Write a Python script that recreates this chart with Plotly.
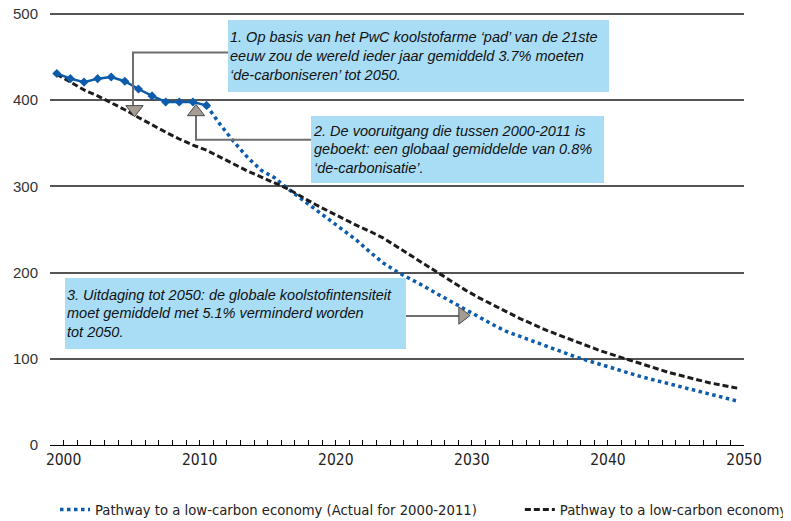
import plotly.graph_objects as go

# years and values
years_actual = list(range(2000, 2012))
actual = [431, 425, 421, 425, 427, 422, 413, 405, 398, 398, 398, 394]

years_proj = list(range(2011, 2051))
projection = [394, 372, 352, 334, 319, 310, 297, 285, 273, 262,
              250, 238, 224, 211, 201, 193, 184, 175, 166, 158,
              149, 140, 132, 126, 121, 115, 109, 103, 98, 93,
              88, 83, 79, 75, 71, 67, 63, 59, 55, 51]

years_pwc = list(range(2000, 2051))
pwc_path = [430, 421, 412, 405, 397, 389, 380, 371, 363, 355,
            348, 342, 334, 326, 318, 311, 304, 297, 288, 279,
            271, 263, 255, 248, 240, 230, 220, 209, 199, 190,
            180, 171, 163, 155, 147, 140, 133, 127, 121, 115,
            109, 104, 99, 94, 89, 84, 80, 76, 72, 69, 66]

tick_labels = ['2000', '2010', '2020', '2030', '2040', '2050']

notes = [
    "1. Op basis van het PwC koolstofarme \u2018pad\u2019 van de 21ste<br>"
    "eeuw zou de wereld ieder jaar gemiddeld 3.7% moeten<br>"
    "\u2018de-carboniseren\u2019 tot 2050.",
    "2. De vooruitgang die tussen 2000-2011 is<br>"
    "geboekt: een globaal gemiddelde van 0.8%<br>"
    "\u2018de-carbonisatie\u2019.",
    "3. Uitdaging tot 2050: de globale koolstofintensiteit<br>"
    "moet gemiddeld met 5.1% verminderd worden<br>"
    "tot 2050.",
]

BLUE = '#0d5cab'
BLACK = '#1c1c1c'
BOX = '#a9ddf6'
GREY = '#6e6e6e'
NARROW = 'Liberation Sans Narrow, DejaVu Sans Condensed, Arial'

fig = go.Figure()

fig.add_trace(go.Scatter(x=years_proj, y=projection, mode='lines',
                         name='Pathway to a low-carbon economy (Actual for 2000-2011)',
                         legend='legend',
                         line=dict(color=BLUE, width=3.5, dash='3.5px,3.5px')))

fig.add_trace(go.Scatter(x=years_pwc, y=pwc_path, mode='lines',
                         name='Pathway to a low-carbon economy',
                         legend='legend2',
                         line=dict(color=BLACK, width=3, dash='6px,3px')))

fig.add_trace(go.Scatter(x=years_actual, y=actual, mode='lines+markers',
                         showlegend=False,
                         line=dict(color=BLUE, width=2.5),
                         marker=dict(symbol='diamond', size=7, color=BLUE)))

# callout connector lines
connectors = [
    ([2012.58, 2005.6, 2005.6], [455.3, 455.3, 393.7]),
    ([2010.23, 2010.23, 2018.68], [382.1, 354.2, 354.2]),
    ([2025.66, 2029.63], [149.8, 149.8]),
]
for cx, cy in connectors:
    fig.add_trace(go.Scatter(x=cx, y=cy, mode='lines', showlegend=False,
                             hoverinfo='skip', line=dict(color=GREY, width=2)))

# callout pointers
fig.add_trace(go.Scatter(x=[2005.71, 2010.23, 2029.82], y=[389.4, 386.4, 150.2],
                         mode='markers', showlegend=False, hoverinfo='skip',
                         marker=dict(symbol=['triangle-down', 'triangle-up', 'triangle-right'],
                                     size=15, color='#a59c94',
                                     line=dict(color='#4a4a4a', width=1))))

boxes = [(2012.58, 493.6, 381, 72), (2018.68, 382.1, 293, 67), (2000.57, 194.0, 341, 71)]
for text, (bx, by, bw, bh) in zip(notes, boxes):
    fig.add_annotation(x=bx, y=by, xref='x', yref='y', xanchor='left', yanchor='top',
                       text=text, showarrow=False, align='left', valign='middle',
                       width=bw - 4, height=bh - 4, borderpad=2, borderwidth=0,
                       bgcolor=BOX,
                       font=dict(family='Liberation Sans, Arial', size=14.5,
                                 color='#111', style='italic'))

legend_style = dict(orientation='h', y=-0.1498, xanchor='left', yanchor='middle',
                    font=dict(family=NARROW, size=14.7, color='#222'),
                    bgcolor='rgba(0,0,0,0)')

# the page body adds an 8px margin, so the figure is 8px smaller
fig.update_layout(
    width=783, height=513,
    margin=dict(l=42, r=47, t=3, b=76, autoexpand=False),
    plot_bgcolor='white', paper_bgcolor='white',
    font=dict(family=NARROW, color='#222'),
    legend=dict(x=0.0072, **legend_style),
    legend2=dict(x=0.677, **legend_style),
)

fig.update_xaxes(range=[1999.5, 2050.5], showgrid=False, zeroline=False,
                 showline=True, linecolor='black', linewidth=1, automargin=False,
                 tickvals=[int(t) + 0.5 for t in tick_labels], ticktext=tick_labels,
                 ticks='inside', ticklen=5, tickcolor='black', tickwidth=1,
                 ticklabeloverflow='allow',
                 minor=dict(ticks='inside', dtick=1, tick0=1999.5, ticklen=5,
                            tickcolor='black', showgrid=False),
                 tickfont=dict(family=NARROW, size=15.5, color='#222'))

fig.update_yaxes(range=[0, 503.5], tickvals=[0, 100, 200, 300, 400, 500],
                 showgrid=True, gridcolor='#555',
                 gridwidth=1.5, zeroline=False, showline=False, ticks='',
                 automargin=False, ticklabelstandoff=11, ticklabeloverflow='allow',
                 tickfont=dict(family='Liberation Sans, Arial', size=15, color='#333'))

fig.write_html("out.html")
